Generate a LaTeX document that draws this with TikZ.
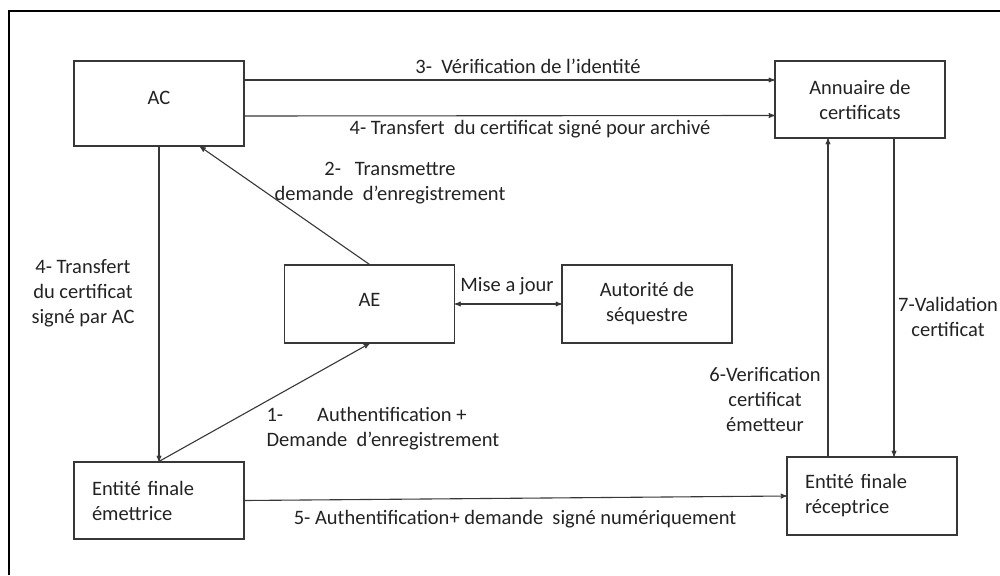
\documentclass[tikz,border=0pt]{standalone}
\usepackage{fontspec}
\setmainfont{Carlito}
\usetikzlibrary{arrows}
\definecolor{line_gray}{RGB}{55,55,55}
\definecolor{text_gray}{RGB}{35,35,35}

\begin{document}
\begin{tikzpicture}[->,>=stealth',line width=1.1pt,x=1pt,y=-1pt,font=\fontsize{20.5}{25}\selectfont]
    \tikzstyle{box}=[draw=line_gray, rectangle, minimum width=170pt, fill=white, text=text_gray, align=center]
    \tikzstyle{lbl}=[text=text_gray, align=center, inner sep=0pt]
    \tikzstyle{side}=[style=box, text width=134pt, inner xsep=18pt, align=left]

    \useasboundingbox (0,0) rectangle (1000,575);
    \draw[-,line width=2.6pt,black] (9,575) -- (9,11) -- (1000,11);

    \node[box,minimum height=85pt,text depth=12pt]  (ac) at (159,103.5) {AC};
    \node[box,minimum height=77pt]  (ann)   at (860,99.5)  {Annuaire de\\certificats};
    \node[box,minimum height=78pt,text depth=8pt]   (ae) at (369.5,304) {AE};
    \node[box,minimum height=78pt]  (seq)   at (647,304)   {Autorité de\\séquestre};
    \node[side,minimum height=77pt] (emet)  at (159,500.5) {Entité finale\\émettrice};
    \node[side,minimum height=78pt] (recep) at (872,496)   {Entité finale\\réceptrice};

    \node[lbl] (t3)  at (528,66)  {3-\ \ Vérification de l’identité};
    \node[lbl] (t4a) at (530,129) {4- Transfert\ \ du certificat signé pour archivé};
    \node[lbl] (t2)  at (390,183) {2-\ \ \ Transmettre\\demande\ \ d’enregistrement};
    \node[lbl] (t4b) at (83,293)  {4- Transfert\\du certificat\\signé par AC};
    \node[lbl] (tmaj) at (507,286) {Mise a jour};
    \node[lbl,anchor=west,align=left] (t1) at (266,428.5) {1-\hspace{34pt}Authentification +\\Demande\ \ d’enregistrement};
    \node[lbl] (t5)  at (515,519) {5- Authentification+ demande\ \ signé numériquement};
    \node[lbl] (t6)  at (765,399) {6-Verification\\certificat\\émetteur};
    \node[lbl] (t7)  at (948,317) {7-Validation\\certificat};

    \path[every edge/.append style={draw=line_gray}]
     ([yshift=23.5pt]ac.east)  edge ([yshift=19.5pt]ann.west)
     ([yshift=-12.5pt]ac.east) edge ([yshift=-16pt]ann.west)
     (ae.north) edge ([xshift=41pt]ac.south)
     (ac.south) edge (emet.north)
     (emet.north) edge (ae.south)
     (ae.east) edge[<->] (seq.west)
     (emet.east) edge (recep.west)
     ([xshift=-44pt]recep.north) edge ([xshift=-32pt]ann.south)
     ([xshift=34pt]ann.south) edge ([xshift=22pt]recep.north)
     ;
\end{tikzpicture}
\end{document}
